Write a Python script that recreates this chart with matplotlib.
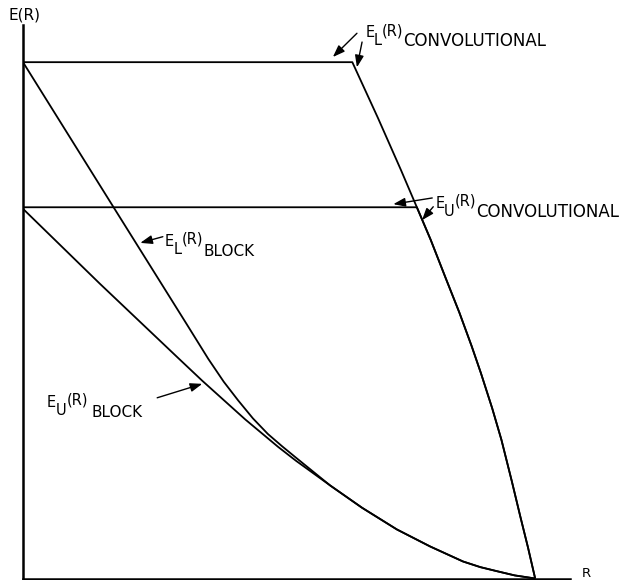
"""Error exponents E(R) for block and convolutional codes.

Four curves on one plain pair of axes (no ticks): the lower and upper bounds on
the reliability function for block codes and for convolutional codes.  Rate is
normalised so that R = 1 at capacity.
"""

import matplotlib.pyplot as plt

# Convolutional lower bound: flat at the top, then bending down to R = C.
EL_CONV_R = [0.000, 0.643, 0.693, 0.738, 0.769, 0.796, 0.826, 0.852, 0.876,
             0.894, 0.916, 0.934, 0.954, 0.971, 0.986, 1.000]
EL_CONV_E = [1.000, 1.000, 0.892, 0.791, 0.719, 0.656, 0.580, 0.515, 0.450,
             0.398, 0.330, 0.269, 0.190, 0.120, 0.060, 0.000]

# Convolutional upper bound: flat until it meets the lower bound, then shares it.
EU_CONV_START_R = [0.000]
EU_CONV_START_E = [0.719]
EU_CONV_JOIN = 4  # first EL_CONV point on the shared stretch

# Block-code upper bound (sphere packing).
EU_BLOCK_R = [0.000, 0.150, 0.303, 0.350, 0.434, 0.498, 0.533, 0.600, 0.662,
              0.730, 0.795, 0.859, 0.893, 0.926, 0.960, 1.000]
EU_BLOCK_E = [0.716, 0.571, 0.427, 0.383, 0.308, 0.255, 0.228, 0.180, 0.137,
              0.095, 0.062, 0.033, 0.022, 0.014, 0.006, 0.000]

# Block-code lower bound: steeper line from the top, easing into the upper bound.
EL_BLOCK_HEAD_R = [0.000, 0.180, 0.320, 0.362, 0.392, 0.420, 0.449, 0.478, 0.506, 0.533]
EL_BLOCK_HEAD_E = [1.000, 0.714, 0.492, 0.425, 0.381, 0.345, 0.310, 0.280, 0.256, 0.234]
EL_BLOCK_JOIN = 7  # first EU_BLOCK point shared with the lower bound

R_MAX = 1.068
E_MAX = 1.072

PIECE_SIZE = 10.5
LINE_KW = dict(color="black", linewidth=1.3, solid_capstyle="butt", solid_joinstyle="round")
ARROW_KW = dict(arrowstyle="-|>,head_length=0.6,head_width=0.22", color="black",
                lw=1.0, shrinkA=0, shrinkB=0, mutation_scale=12)


def compound_label(ax, xy, sub, word, word_size, gap=0.0):
    """Draw 'E', a dropped subscript, a raised '(R)' and a dropped word in a row."""
    e = ax.annotate("E", xy=xy, fontsize=PIECE_SIZE, ha="left", va="baseline")
    s = ax.annotate(sub, xy=(1, 0), xycoords=e, xytext=(-0.4, -5.8),
                    textcoords="offset points", fontsize=PIECE_SIZE, ha="left", va="bottom")
    r = ax.annotate("(R)", xy=(1, 0), xycoords=s, xytext=(0.3, 7.4),
                    textcoords="offset points", fontsize=PIECE_SIZE, ha="left", va="bottom")
    ax.annotate(word, xy=(1, 0), xycoords=r, xytext=(gap, -8.8),
                textcoords="offset points", fontsize=word_size, ha="left", va="bottom")


def arrow(ax, tail, tip):
    ax.annotate("", xy=tip, xytext=tail, arrowprops=ARROW_KW)


def main() -> None:
    fig = plt.figure(figsize=(6.24, 5.80), dpi=100)
    ax = fig.add_axes((23 / 624, 1.5 / 580, 547 / 624, 553.5 / 580))

    eu_conv_r = EU_CONV_START_R + EL_CONV_R[EU_CONV_JOIN:]
    eu_conv_e = EU_CONV_START_E + EL_CONV_E[EU_CONV_JOIN:]
    el_block_r = EL_BLOCK_HEAD_R + EU_BLOCK_R[EL_BLOCK_JOIN:]
    el_block_e = EL_BLOCK_HEAD_E + EU_BLOCK_E[EL_BLOCK_JOIN:]

    ax.plot(EL_CONV_R, EL_CONV_E, **LINE_KW)
    ax.plot(eu_conv_r, eu_conv_e, **LINE_KW)
    ax.plot(EU_BLOCK_R, EU_BLOCK_E, **LINE_KW)
    ax.plot(el_block_r, el_block_e, **LINE_KW)

    ax.set_xlim(0, R_MAX)
    ax.set_ylim(0, E_MAX)
    ax.set_xticks([])
    ax.set_yticks([])
    for side in ("top", "right"):
        ax.spines[side].set_visible(False)
    for side in ("left", "bottom"):
        ax.spines[side].set_linewidth(1.8)
        ax.spines[side].set_color("black")

    # curve labels with pointer arrows
    compound_label(ax, (0.668, 1.048), "L", "CONVOLUTIONAL", 12)
    arrow(ax, (0.652, 1.056), (0.605, 1.010))
    arrow(ax, (0.662, 1.039), (0.652, 0.990))

    compound_label(ax, (0.805, 0.718), "U", "CONVOLUTIONAL", 12)
    arrow(ax, (0.799, 0.737), (0.723, 0.725))
    arrow(ax, (0.801, 0.720), (0.779, 0.694))

    compound_label(ax, (0.277, 0.644), "L", "BLOCK", 11)
    arrow(ax, (0.273, 0.662), (0.229, 0.650))

    compound_label(ax, (0.047, 0.333), "U", "BLOCK", 11, gap=2.5)
    arrow(ax, (0.262, 0.350), (0.350, 0.377))

    fig.text(8 / 624, 1 - 20 / 580, "E(R)", fontsize=11, ha="left", va="baseline")
    fig.text(582 / 624, 1 - 577 / 580, "R", fontsize=9.5, ha="left", va="baseline")

    fig.savefig("out.png", dpi=100, facecolor="white")


if __name__ == "__main__":
    main()
